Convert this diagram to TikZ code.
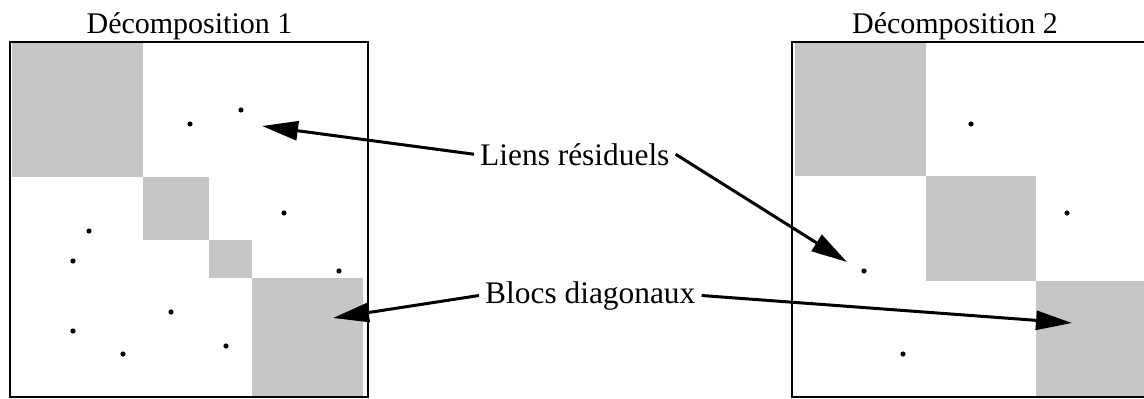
\documentclass[tikz,border=0pt]{standalone}
\usepackage{fontspec}
\setmainfont{Liberation Serif}
\usetikzlibrary{arrows.meta}
\definecolor{blockgray}{RGB}{198,198,198}
\tikzset{
 blk/.style={fill=blockgray, draw=none},
 frame/.style={draw=black, line width=2.4pt},
 pt/.style={fill=black},
 lbl/.style={font=\fontsize{31.4}{36}\selectfont, inner sep=6pt, anchor=base west},
 ttl/.style={font=\fontsize{30}{34}\selectfont, inner sep=0pt, anchor=base},
 arr/.style={line width=3pt, -{Triangle[length=36pt,width=19pt]}},
}
\begin{document}
\begin{tikzpicture}[x=1pt,y=-1pt]
\useasboundingbox (0,0) rectangle (1144,399);
% left matrix blocks
\fill[blk] (12,43) rectangle (143,177);
\fill[blk] (143,177) rectangle (209,240);
\fill[blk] (209,240) rectangle (252,278);
\fill[blk] (252,278) rectangle (363,397);
% right matrix blocks
\fill[blk] (795,43) rectangle (926,176);
\fill[blk] (926,176) rectangle (1036,281);
\fill[blk] (1036,281) rectangle (1150,397);
% frames
\draw[frame] (10,42) rectangle (368,397);
\draw[frame] (792,42) rectangle (1152,397);
% dots left
\foreach \p in {(190,124),(241,110),(284,213),(89,231),(73,261),(339,271),(171,312),(73,331),(123,354),(226,346)}
  \fill[pt] \p circle (2.6);
% dots right
\foreach \p in {(971,124),(1067,213),(864,271),(903,354)}
  \fill[pt] \p circle (2.6);
% titles
\node[ttl] (d1) at (189.5,33) {Décomposition 1};
\node[ttl] (d2) at (955,33) {Décomposition 2};
% labels
\node[lbl] (liens) at (474,165) {Liens résiduels};
\node[lbl] (blocs) at (479,303) {Blocs diagonaux};
% arrow targets
\coordinate (t1) at (262,126);
\coordinate (t2) at (847,262);
\coordinate (t3) at (333,318);
\coordinate (t4) at (1072,323);
\draw[arr] (liens.west) -- (t1);
\draw[arr] (liens.east) -- (t2);
\draw[arr] (blocs.west) -- (t3);
\draw[arr] (blocs.east) -- (t4);
\end{tikzpicture}
\end{document}
